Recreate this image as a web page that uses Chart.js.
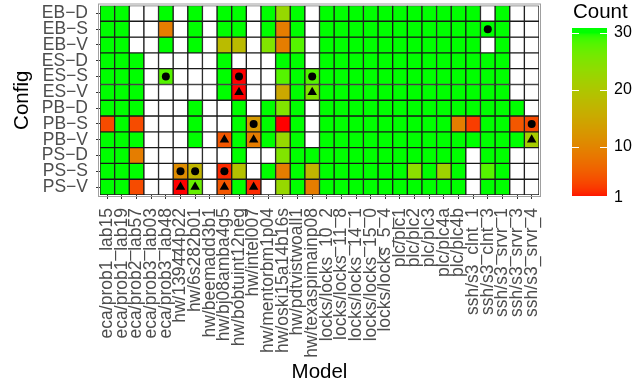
<!DOCTYPE html>
<html>
<head>
<meta charset="utf-8">
<script src="https://cdn.jsdelivr.net/npm/chart.js@4"></script>
<style>
  body { margin: 0; background: #fff; }
</style>
</head>
<body>
<canvas id="heat" width="643" height="387"></canvas>
<script>
// Modelos (eixo x) e configurações (eixo y)
const models = ['eca/prob1_lab15', 'eca/prob1_lab19', 'eca/prob2_lab57', 'eca/prob3_lab03', 'eca/prob3_lab48',
  'hw/139444p22', 'hw/6s282b01', 'hw/beemadd3b1', 'hw/bj08amba4g5', 'hw/bobtuint12neg', 'hw/intel007',
  'hw/mentorbm1p04', 'hw/oski15a14b16s', 'hw/pdtvistwoall1', 'hw/texaspimainp08',
  'locks/locks_10_2', 'locks/locks_11_8', 'locks/locks_14_1', 'locks/locks_15_0', 'locks/locks_5_4',
  'plc/plc1', 'plc/plc2', 'plc/plc3', 'plc/plc4a', 'plc/plc4b',
  'ssh/s3_clnt_1', 'ssh/s3_clnt_3', 'ssh/s3_srvr_1', 'ssh/s3_srvr_3', 'ssh/s3_srvr_4'];
const configs = ['EB−D', 'EB−S', 'EB−V', 'ES−D', 'ES−S', 'ES−V', 'PB−D', 'PB−S', 'PB−V', 'PS−D', 'PS−S', 'PS−V'];

const N = null; // célula vazia
const counts = [
  [30,30,N,N,30,N,30,N,30,30,N,30,23,30,N, 30,30,30,30,30,30,30,30,30,30,30,N,30,N,N],
  [30,30,N,N,9,N,30,N,30,30,N,30,9,30,N, 30,30,30,30,30,30,30,30,30,30,30,30,30,N,N],
  [30,30,N,N,30,N,30,N,18,18,N,25,9,28,N, 30,30,30,30,30,30,30,30,30,30,30,N,30,N,N],
  [30,30,30,N,N,N,N,N,30,N,N,N,30,30,N, 30,30,30,30,30,30,30,30,30,30,30,30,30,N,N],
  [30,30,30,N,28,N,N,N,30,1,N,N,28,30,28, 30,30,30,30,30,30,30,30,30,30,30,30,30,N,N],
  [30,30,30,N,N,N,N,N,30,1,N,N,15,30,25, 30,30,30,30,30,30,30,30,30,30,30,30,30,N,N],
  [30,30,30,N,N,N,30,N,N,30,N,30,25,30,N, 30,30,30,30,30,30,30,30,30,30,30,30,30,30,N],
  [4,30,4,N,N,N,30,N,N,30,13,30,1,30,N, 30,30,30,30,30,30,30,30,30,9,3,30,30,5,4],
  [30,30,30,N,N,N,30,N,5,30,9,30,23,30,N, 30,30,30,30,30,30,30,30,30,30,30,30,30,30,21],
  [30,30,9,N,N,N,N,N,N,30,N,N,25,30,30, 30,30,30,30,30,30,30,30,30,30,N,30,30,N,N],
  [30,30,30,N,N,11,17,N,2,19,N,30,9,30,17, 30,30,30,30,30,30,24,30,22,30,N,28,30,N,N],
  [30,30,4,N,N,1,27,N,5,30,2,N,23,30,9, 30,30,30,30,30,30,30,30,30,30,N,30,30,N,N]
];

// Marcadores: círculos e triângulos
const dotCells = [
  ['eca/prob3_lab48', 'ES−S'], ['hw/139444p22', 'PS−S'], ['hw/6s282b01', 'PS−S'],
  ['hw/bj08amba4g5', 'PS−S'], ['hw/bobtuint12neg', 'ES−S'], ['hw/intel007', 'PB−S'],
  ['hw/texaspimainp08', 'ES−S'], ['ssh/s3_clnt_3', 'EB−S'], ['ssh/s3_srvr_4', 'PB−S']
];
const triCells = [
  ['hw/139444p22', 'PS−V'], ['hw/6s282b01', 'PS−V'], ['hw/bj08amba4g5', 'PB−V'],
  ['hw/bj08amba4g5', 'PS−V'], ['hw/bobtuint12neg', 'ES−V'], ['hw/intel007', 'PB−V'],
  ['hw/intel007', 'PS−V'], ['hw/texaspimainp08', 'ES−V'], ['ssh/s3_srvr_4', 'PB−V']
];
const legendTicks = [1, 10, 20, 30];
const countMin = 1, countMax = 30;

// Gradiente vermelho -> verde interpolado em Lab (como no ggplot)
function toLab(r, g, b) {
  const lin = c => { c /= 255; return c <= 0.04045 ? c / 12.92 : Math.pow((c + 0.055) / 1.055, 2.4); };
  const R = lin(r), G = lin(g), B = lin(b);
  const X = (0.4124 * R + 0.3576 * G + 0.1805 * B) / 0.95047;
  const Y = 0.2126 * R + 0.7152 * G + 0.0722 * B;
  const Z = (0.0193 * R + 0.1192 * G + 0.9505 * B) / 1.08883;
  const f = t => t > 0.008856 ? Math.cbrt(t) : 7.787 * t + 16 / 116;
  return [116 * f(Y) - 16, 500 * (f(X) - f(Y)), 200 * (f(Y) - f(Z))];
}
function fromLab(L, a, b) {
  const fy = (L + 16) / 116, fx = fy + a / 500, fz = fy - b / 200;
  const inv = t => t * t * t > 0.008856 ? t * t * t : (t - 16 / 116) / 7.787;
  const X = inv(fx) * 0.95047, Y = inv(fy), Z = inv(fz) * 1.08883;
  const R = 3.2406 * X - 1.5372 * Y - 0.4986 * Z;
  const G = -0.9689 * X + 1.8758 * Y + 0.0415 * Z;
  const B = 0.0557 * X - 0.2040 * Y + 1.0570 * Z;
  const gam = c => { c = Math.max(0, Math.min(1, c)); return Math.round(255 * (c <= 0.0031308 ? 12.92 * c : 1.055 * Math.pow(c, 1 / 2.4) - 0.055)); };
  return `rgb(${gam(R)}, ${gam(G)}, ${gam(B)})`;
}
const labLow = toLab(255, 0, 0), labHigh = toLab(0, 255, 0);
function countColor(v) {
  const t = Math.max(0, Math.min(1, (v - countMin) / (countMax - countMin)));
  return fromLab(labLow[0] + t * (labHigh[0] - labLow[0]), labLow[1] + t * (labHigh[1] - labLow[1]), labLow[2] + t * (labHigh[2] - labLow[2]));
}

const fontFam = "'Liberation Sans', Arial, sans-serif";

// Uma série de barras flutuantes por linha (configuração)
const rowSets = configs.map((cfg, i) => ({
  type: 'bar',
  label: cfg,
  data: counts[i].map(() => [i - 0.5, i + 0.5]),
  backgroundColor: counts[i].map(v => v == null ? '#ffffff' : countColor(v)),
  borderColor: '#1a1a1a',
  borderWidth: 1,
  borderSkipped: false,
  grouped: false,
  categoryPercentage: 1,
  barPercentage: 1,
  order: 2
}));

const markerSet = (cells, style, radius) => ({
  type: 'line',
  data: cells.map(([m, c]) => ({ x: m, y: configs.indexOf(c) })),
  showLine: false,
  pointStyle: style,
  pointRadius: radius,
  pointBackgroundColor: '#000',
  pointBorderColor: '#000',
  pointBorderWidth: 0,
  order: 1
});

// Legenda (barra de cores) e borda do painel
const colorBar = {
  id: 'colorBar',
  afterDraw(chart) {
    const ctx = chart.ctx;
    const { left, top, right, bottom } = chart.chartArea;
    ctx.save();
    ctx.strokeStyle = '#a0a0a0';
    ctx.lineWidth = 1;
    ctx.strokeRect(left - 1.5, top - 1.5, right - left + 3, bottom - top + 3);

    const x0 = 572, w = 35, barTop = 28, barBottom = 196;
    const yOf = v => 33 + (30 - v) * 5.68;
    for (let y = barTop; y < barBottom; y++) {
      const v = 30 - (y + 0.5 - 33) / 5.68;
      ctx.fillStyle = countColor(v);
      ctx.fillRect(x0, y, w, 1);
    }
    ctx.strokeStyle = '#ffffff';
    legendTicks.forEach(t => {
      if (t === 1) return;
      const y = Math.round(yOf(t)) + 0.5;
      ctx.beginPath();
      ctx.moveTo(x0, y); ctx.lineTo(x0 + 7, y);
      ctx.moveTo(x0 + w - 7, y); ctx.lineTo(x0 + w, y);
      ctx.stroke();
    });
    ctx.fillStyle = '#000';
    ctx.textBaseline = 'middle';
    ctx.textAlign = 'left';
    ctx.font = `16px ${fontFam}`;
    legendTicks.forEach(t => ctx.fillText(String(t), 614, yOf(t)));
    ctx.font = `20.5px ${fontFam}`;
    ctx.fillText('Count', 573, 12);
    ctx.restore();
  }
};

const ctx = document.getElementById('heat').getContext('2d');
new Chart(ctx, {
  type: 'bar',
  data: {
    labels: models,
    datasets: [...rowSets, markerSet(dotCells, 'circle', 4), markerSet(triCells, 'triangle', 5.5)]
  },
  options: {
    responsive: false,
    animation: false,
    devicePixelRatio: 1,
    layout: { padding: { top: 3, right: 104, left: 0, bottom: 0 } },
    plugins: { legend: { display: false }, tooltip: { enabled: false } },
    scales: {
      x: {
        type: 'category',
        offset: true,
        afterFit: s => { s.height = 192; s.paddingLeft = 0; s.paddingRight = 0; },
        grid: { drawOnChartArea: false, offset: false, tickLength: 4, color: '#333' },
        border: { display: false },
        ticks: {
          autoSkip: false, minRotation: 90, maxRotation: 90, padding: 9,
          color: '#4d4d4d', font: { family: fontFam, size: 17.5 }
        },
        title: {
          display: true, text: 'Model', color: '#000',
          font: { family: fontFam, size: 20.5 }, padding: { top: 0, bottom: 2 }
        }
      },
      y: {
        type: 'linear',
        min: -0.5,
        max: 11.5,
        reverse: true,
        afterBuildTicks: s => { s.ticks = configs.map((c, i) => ({ value: i })); },
        afterFit: s => { s.width = 100; s.paddingTop = 0; s.paddingBottom = 0; },
        grid: { drawOnChartArea: false, tickLength: 4, color: '#333' },
        border: { display: false },
        ticks: {
          autoSkip: false, callback: v => configs[v], padding: 8,
          color: '#4d4d4d', font: { family: fontFam, size: 17.5 }
        },
        title: {
          display: true, text: 'Config', color: '#000',
          font: { family: fontFam, size: 20.5 }, padding: { top: 10, bottom: 0 }
        }
      }
    }
  },
  plugins: [colorBar]
});
</script>
</body>
</html>
